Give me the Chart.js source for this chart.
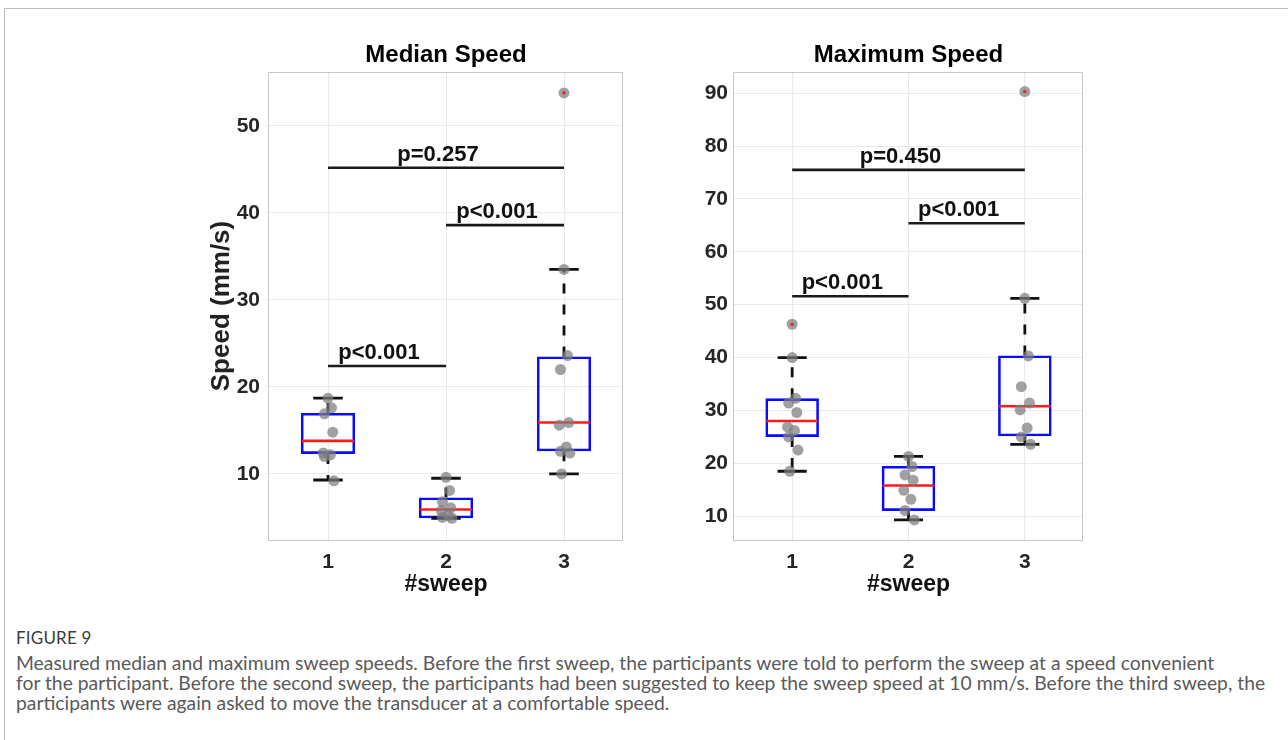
<!DOCTYPE html>
<html><head><meta charset="utf-8">
<script src="https://cdn.jsdelivr.net/npm/chart.js@4.4.1/dist/chart.umd.min.js"></script>
<style>
html,body{margin:0;padding:0;background:#fff;}
body{width:1288px;height:740px;position:relative;overflow:hidden;}
#frame{position:absolute;left:4px;top:8px;width:1320px;height:780px;border-top:1px solid #bdbdbd;border-left:1px solid #bdbdbd;}
canvas{position:absolute;top:20px;}
#c1{left:200px;}
#c2{left:680px;}
#cap{position:absolute;left:16px;top:628px;font-family:Lato,'Open Sans',sans-serif;white-space:nowrap;}
#fig{font-size:17px;line-height:20px;color:#3a3a3a;letter-spacing:0.2px;}
#lines{margin-top:5px;color:#5a5a5a;font-size:16px;}
#lines div{line-height:20px;}
</style></head>
<body>
<div id="frame"></div>
<canvas id="c1" width="440" height="580"></canvas>
<canvas id="c2" width="420" height="580"></canvas>
<div id="cap">
  <div id="fig">FIGURE 9</div>
  <div id="lines">
    <div><span id="l1">Measured median and maximum sweep speeds. Before the first sweep, the participants were told to perform the sweep at a speed convenient</span></div>
    <div>for the participant. Before the second sweep, the participants had been suggested to keep the sweep speed at 10 mm/s. Before the third sweep, the</div>
    <div>participants were again asked to move the transducer at a comfortable speed.</div>
  </div>
</div>
<script>
// ---------------- DATA ----------------
const categories = ['1', '2', '3'];
const xAxisTitle = '#sweep';
const yAxisTitle = 'Speed (mm/s)';

// Panel 1: Median Speed (mm/s)
const medianTitle = 'Median Speed';
const medianQ1 = [12.3, 4.9, 12.6];
const medianMed = [13.8, 5.9, 15.9];
const medianQ3 = [17.0, 7.3, 23.5];
const medianWhiskerLow = [9.3, 4.9, 10.0];
const medianWhiskerHigh = [18.7, 9.5, 33.5];
const medianPoints1 = [18.7, 17.6, 16.9, 14.8, 12.4, 12.2, 12.0, 9.2];
const medianPoints2 = [9.6, 8.1, 6.8, 6.1, 5.8, 5.2, 5.0, 4.9];
const medianPoints3 = [33.5, 23.6, 22.0, 15.9, 15.6, 13.1, 12.6, 12.4, 10.0];
const medianOutliers = [null, null, 53.8];
const medianYMin = 2.4, medianYMax = 56.2;
const medianYTicks = [10, 20, 30, 40, 50];
const medianSigFrom = [1, 2, 1];
const medianSigTo = [2, 3, 3];
const medianSigY = [22.4, 38.6, 45.2];
const medianSigLabels = ['p<0.001', 'p<0.001', 'p=0.257'];

// Panel 2: Maximum Speed (mm/s)
const maxTitle = 'Maximum Speed';
const maxQ1 = [25.0, 11.0, 25.1];
const maxMed = [28.0, 15.8, 30.8];
const maxQ3 = [32.3, 19.5, 40.4];
const maxWhiskerLow = [18.5, 9.3, 23.6];
const maxWhiskerHigh = [40.0, 21.3, 51.2];
const maxPoints1 = [40.0, 32.3, 31.4, 29.6, 26.9, 26.2, 25.0, 22.5, 18.5];
const maxPoints2 = [21.3, 19.4, 17.8, 16.8, 14.9, 13.2, 11.1, 9.3];
const maxPoints3 = [51.2, 40.3, 34.5, 31.4, 30.1, 26.7, 25.0, 23.6];
const maxOutliers = [46.3, null, 90.3];
const maxYMin = 5.5, maxYMax = 94;
const maxYTicks = [10, 20, 30, 40, 50, 60, 70, 80, 90];
const maxSigFrom = [1, 2, 1];
const maxSigTo = [2, 3, 3];
const maxSigY = [51.6, 65.4, 75.5];
const maxSigLabels = ['p<0.001', 'p<0.001', 'p=0.450'];

// ---------------- STYLE ----------------
const FONT = "'Liberation Sans', Arial, Helvetica, sans-serif";
const JITTER = [0.00, 0.03, -0.03, 0.04, -0.04, 0.02, -0.03, 0.05, -0.02];
const CAP_HALF = 0.125;
const GRID = '#e9e9e9';
const FRAME = '#c8c8c8';
const TICK_COLOR = '#262626';

function buildChart(canvasId, p) {
  const pts = [];
  p.points.forEach((arr, ci) => arr.forEach((v, j) => pts.push({x: ci + 1 + JITTER[j % JITTER.length], y: v})));
  const outs = [];
  p.outliers.forEach((v, ci) => { if (v !== null) outs.push({x: ci + 1, y: v}); });
  const boxes = categories.map((c, i) => ({x: i + 1, y: [p.q1[i], p.q3[i]]}));
  const BOX_INDEX = 3;

  const parts = {
    id: 'boxParts',
    afterDatasetDraw(chart, args) {
      if (args.index !== BOX_INDEX) return;
      const {ctx} = chart; const xs = chart.scales.x, ys = chart.scales.y;
      const meta = chart.getDatasetMeta(BOX_INDEX);
      ctx.save();
      categories.forEach((c, i) => {
        const cx = xs.getPixelForValue(i + 1);
        // dashed whiskers
        ctx.strokeStyle = '#111'; ctx.lineWidth = 2.8; ctx.setLineDash([10, 11]);
        ctx.beginPath();
        ctx.moveTo(cx, ys.getPixelForValue(p.q3[i])); ctx.lineTo(cx, ys.getPixelForValue(p.hi[i]));
        ctx.moveTo(cx, ys.getPixelForValue(p.q1[i])); ctx.lineTo(cx, ys.getPixelForValue(p.lo[i]));
        ctx.stroke();
        ctx.setLineDash([]);
        // caps
        ctx.lineWidth = 2.8;
        ctx.beginPath();
        [p.hi[i], p.lo[i]].forEach(v => {
          const yy = ys.getPixelForValue(v);
          ctx.moveTo(xs.getPixelForValue(i + 1 - CAP_HALF), yy);
          ctx.lineTo(xs.getPixelForValue(i + 1 + CAP_HALF), yy);
        });
        ctx.stroke();
        // median
        const el = meta.data[i];
        const my = ys.getPixelForValue(p.med[i]);
        ctx.strokeStyle = '#ff1a1a'; ctx.lineWidth = 2.6;
        ctx.beginPath(); ctx.moveTo(el.x - el.width / 2 + 1, my); ctx.lineTo(el.x + el.width / 2 - 1, my); ctx.stroke();
      });
      ctx.restore();
    },
    afterDatasetsDraw(chart) {
      const {ctx, chartArea: a} = chart; const xs = chart.scales.x, ys = chart.scales.y;
      ctx.save();
      // significance bars
      p.sigFrom.forEach((f, k) => {
        const x1 = xs.getPixelForValue(f), x2 = xs.getPixelForValue(p.sigTo[k]);
        const yy = ys.getPixelForValue(p.sigY[k]);
        ctx.strokeStyle = '#1a1a1a'; ctx.lineWidth = 2.6;
        ctx.beginPath(); ctx.moveTo(x1, yy); ctx.lineTo(x2, yy); ctx.stroke();
        ctx.fillStyle = '#111'; ctx.font = 'bold 22px ' + FONT;
        ctx.textAlign = 'center'; ctx.textBaseline = 'alphabetic';
        ctx.fillText(p.sigLabels[k], (x1 + x2) / 2 - 8, yy - 7);
      });
      // axes frame
      ctx.strokeStyle = FRAME; ctx.lineWidth = 1;
      ctx.strokeRect(Math.round(a.left) - 0.5, Math.round(a.top) + 0.5, Math.round(a.right - a.left), Math.round(a.bottom - a.top));
      ctx.restore();
    }
  };

  return new Chart(document.getElementById(canvasId), {
    type: 'bar',
    data: {
      datasets: [
        {type: 'scatter', data: outs, pointRadius: 1.8, pointBackgroundColor: 'rgba(230,40,40,0.95)', pointBorderWidth: 0},
        {type: 'scatter', data: outs, pointRadius: 5.5, pointBackgroundColor: 'rgba(125,125,125,0.72)', pointBorderWidth: 0},
        {type: 'scatter', data: pts, pointRadius: 5.5, pointBackgroundColor: 'rgba(125,125,125,0.72)', pointBorderWidth: 0},
        {type: 'bar', data: boxes, backgroundColor: 'rgba(0,0,0,0)', borderColor: '#0a0aff', borderWidth: 2.6,
         borderSkipped: false, barPercentage: 0.46, categoryPercentage: 1, grouped: false}
      ]
    },
    options: {
      responsive: false, animation: false, devicePixelRatio: 1,
      layout: {padding: {left: 0, right: 17, top: 0, bottom: 0}},
      plugins: {
        legend: {display: false}, tooltip: {enabled: false},
        title: {display: true, text: p.title, fullSize: false, color: '#000',
                font: {family: FONT, size: 24, weight: 'bold', lineHeight: 1.2}, padding: {top: 20.6, bottom: 2.6}}
      },
      scales: {
        x: {
          type: 'linear', min: 0.5, max: 3.5, offset: false,
          afterBuildTicks: s => { s.ticks = categories.map((c, i) => ({value: i + 1})); },
          afterFit: s => { s.height = 60; },
          grid: {color: GRID, drawTicks: false, offset: false},
          border: {display: false},
          ticks: {callback: v => categories[Math.round(v) - 1], color: TICK_COLOR, padding: 10,
                  font: {family: FONT, size: 21, weight: 'bold', lineHeight: 1.2}, maxRotation: 0},
          title: {display: true, text: xAxisTitle, color: '#111', font: {family: FONT, size: 23, weight: 'bold', lineHeight: 1.2},
                  padding: {top: 0, bottom: 2}}
        },
        y: {
          min: p.yMin, max: p.yMax,
          afterBuildTicks: s => { s.ticks = p.yTicks.map(v => ({value: v})); },
          afterFit: s => { s.width = p.yWidth; },
          grid: {color: GRID, drawTicks: false},
          border: {display: false},
          ticks: {color: TICK_COLOR, padding: p.tickPad, font: {family: FONT, size: 21, weight: 'bold'}},
          title: {display: !!p.yTitle, text: p.yTitle || '', color: '#222',
                  font: {family: FONT, size: 26, weight: 'bold', lineHeight: 1.2}, padding: {top: 6.4, bottom: 0}}
        }
      }
    },
    plugins: [parts]
  });
}

buildChart('c1', {
  title: medianTitle, q1: medianQ1, med: medianMed, q3: medianQ3, lo: medianWhiskerLow, hi: medianWhiskerHigh,
  points: [medianPoints1, medianPoints2, medianPoints3], outliers: medianOutliers,
  yMin: medianYMin, yMax: medianYMax, yTicks: medianYTicks,
  sigFrom: medianSigFrom, sigTo: medianSigTo, sigY: medianSigY, sigLabels: medianSigLabels,
  yTitle: yAxisTitle, yWidth: 69, tickPad: 9
});
buildChart('c2', {
  title: maxTitle, q1: maxQ1, med: maxMed, q3: maxQ3, lo: maxWhiskerLow, hi: maxWhiskerHigh,
  points: [maxPoints1, maxPoints2, maxPoints3], outliers: maxOutliers,
  yMin: maxYMin, yMax: maxYMax, yTicks: maxYTicks,
  sigFrom: maxSigFrom, sigTo: maxSigTo, sigY: maxSigY, sigLabels: maxSigLabels,
  yTitle: null, yWidth: 54, tickPad: 6
});

// caption: fit first line width to the reference (x 16 -> 1215)
(function () {
  const lines = document.getElementById('lines');
  const w = document.getElementById('l1').getBoundingClientRect().width;
  lines.style.fontSize = (16 * 1199 / w).toFixed(2) + 'px';
})();
</script>
</body></html>
